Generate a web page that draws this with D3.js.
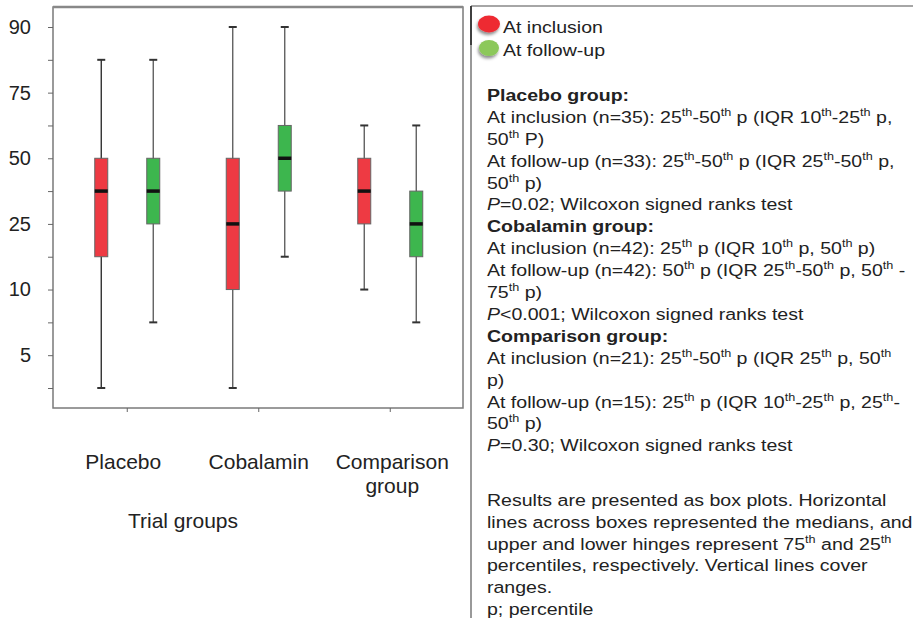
<!DOCTYPE html>
<html>
<head>
<meta charset="utf-8">
<script src="https://cdn.jsdelivr.net/npm/d3@7"></script>
<style>
  html, body { margin: 0; padding: 0; background: #fff; }
  svg { display: block; font-family: Arial, "Liberation Sans", sans-serif; }
</style>
</head>
<body>
<svg id="chart" width="913" height="618"></svg>
<script>
// ---------------- data ----------------
const groups = ["Placebo", "Cobalamin", "Comparison group"];
const series = ["At inclusion", "At follow-up"];
// y axis is an ordinal percentile scale; values are level indices (0..11)
const yTickLabels = ["", "5", "", "10", "", "25", "", "50", "", "75", "", "90"];
// order: [Placebo incl, Placebo fu, Cobalamin incl, Cobalamin fu, Comparison incl, Comparison fu]
const whiskerLow  = [0, 2, 0, 4, 3, 2];
const boxLow      = [4, 5, 3, 6, 5, 4];
const medianVal   = [6, 6, 5, 7, 6, 5];
const boxHigh     = [7, 7, 7, 8, 7, 6];
const whiskerHigh = [10, 10, 11, 11, 8, 8];
const seriesColors = ["#ee3a43", "#3db64e"];
const legendColors = ["#ee2a32", "#8cc85a"];

const statLines = [
  {t: "Placebo group:", b: true},
  {t: "At inclusion (n=35): 25^th^-50^th^ p (IQR 10^th^-25^th^ p,"},
  {t: "50^th^ P)"},
  {t: "At follow-up (n=33): 25^th^-50^th^ p (IQR 25^th^-50^th^ p,"},
  {t: "50^th^ p)"},
  {t: "*P*=0.02; Wilcoxon signed ranks test"},
  {t: "Cobalamin group:", b: true},
  {t: "At inclusion (n=42): 25^th^ p (IQR 10^th^ p, 50^th^ p)"},
  {t: "At follow-up (n=42): 50^th^ p (IQR 25^th^-50^th^ p, 50^th^ -"},
  {t: "75^th^ p)"},
  {t: "*P*<0.001; Wilcoxon signed ranks test"},
  {t: "Comparison group:", b: true},
  {t: "At inclusion (n=21): 25^th^-50^th^ p (IQR 25^th^ p, 50^th^"},
  {t: "p)"},
  {t: "At follow-up (n=15): 25^th^ p (IQR 10^th^-25^th^ p, 25^th^-"},
  {t: "50^th^ p)"},
  {t: "*P*=0.30; Wilcoxon signed ranks test"}
];
const noteLines = [
  "Results are presented as box plots. Horizontal",
  "lines across boxes represented the medians, and",
  "upper and lower hinges represent 75^th^ and 25^th^",
  "percentiles, respectively. Vertical lines cover",
  "ranges.",
  "p; percentile"
];

// ---------------- layout ----------------
const svg = d3.select("#chart");
const frame = {left: 53, right: 463, top: 7, bottom: 408};

const x = d3.scaleBand().domain(groups).range([61.5, 456]).padding(0);
const xs = d3.scaleBand().domain(series).range([-52, 52]).padding(0);
const y = d3.scaleLinear().domain([0, 11]).range([388, 27]);
const boxW = 13;

// frame
svg.append("rect")
  .attr("x", frame.left).attr("y", frame.top)
  .attr("width", frame.right - frame.left).attr("height", frame.bottom - frame.top)
  .attr("fill", "none").attr("stroke", "#7a7a7a").attr("stroke-width", 1.5);
svg.append("line").attr("x1", frame.left).attr("x2", frame.right)
  .attr("y1", frame.top).attr("y2", frame.top)
  .attr("stroke", "#888").attr("stroke-width", 2.5);

// y axis
const yAxis = d3.axisLeft(y)
  .tickValues(d3.range(0, 12))
  .tickFormat(i => yTickLabels[i])
  .tickSize(5).tickPadding(17);
const gy = svg.append("g").attr("transform", `translate(${frame.left},0)`).call(yAxis);
gy.select(".domain").remove();
gy.selectAll(".tick line").attr("stroke", "#666");
gy.selectAll(".tick text").attr("font-size", 20).attr("fill", "#222")
  .attr("font-family", "Arial, 'Liberation Sans', sans-serif");

// x axis
const xAxis = d3.axisBottom(x).tickSize(4).tickFormat("");
const gx = svg.append("g").attr("transform", `translate(0,${frame.bottom})`).call(xAxis);
gx.select(".domain").remove();
gx.selectAll(".tick line").attr("stroke", "#666");

// category labels
const catLabel = svg.append("g").attr("font-size", 21).attr("fill", "#222").attr("text-anchor", "middle");
const catLines = {"Placebo": ["Placebo"], "Cobalamin": ["Cobalamin"], "Comparison group": ["Comparison", "group"]};
groups.forEach((g, gi) => {
  const cx = x(g) + x.bandwidth() / 2 + (gi === 0 ? -4 : 0) + (gi === 2 ? 2 : 0);
  catLines[g].forEach((ln, li) => {
    catLabel.append("text").attr("x", cx).attr("y", 469 + li * 24).text(ln);
  });
});
svg.append("text").attr("x", 183).attr("y", 528).attr("text-anchor", "middle")
  .attr("font-size", 21).attr("fill", "#222").text("Trial groups");

// boxes
const boxes = [];
groups.forEach((g, gi) => series.forEach((s, si) => {
  const k = gi * 2 + si;
  boxes.push({g, s, si, lo: whiskerLow[k], q1: boxLow[k], med: medianVal[k], q3: boxHigh[k], hi: whiskerHigh[k]});
}));
const bx = d => x(d.g) + x.bandwidth() / 2 + xs(d.s) + xs.bandwidth() / 2;

const bg = svg.append("g").selectAll("g").data(boxes).join("g");
bg.append("line")
  .attr("x1", bx).attr("x2", bx)
  .attr("y1", d => y(d.lo)).attr("y2", d => y(d.hi))
  .attr("stroke", (d, i) => i === 0 ? "#222" : "#555").attr("stroke-width", 1.3);
[["lo"], ["hi"]].forEach(([k]) => {
  bg.append("line")
    .attr("x1", d => bx(d) - 4).attr("x2", d => bx(d) + 4)
    .attr("y1", d => y(d[k])).attr("y2", d => y(d[k]))
    .attr("stroke", "#333").attr("stroke-width", 2);
});
bg.append("rect")
  .attr("x", d => bx(d) - boxW / 2).attr("width", boxW)
  .attr("y", d => y(d.q3)).attr("height", d => y(d.q1) - y(d.q3))
  .attr("fill", d => seriesColors[d.si]).attr("stroke", "#666").attr("stroke-width", 1);
bg.append("line")
  .attr("x1", d => bx(d) - boxW / 2).attr("x2", d => bx(d) + boxW / 2)
  .attr("y1", d => y(d.med)).attr("y2", d => y(d.med))
  .attr("stroke", "#111").attr("stroke-width", 3.5);

// ---------------- right panel ----------------
const panelX = 471;
svg.append("line").attr("x1", panelX).attr("x2", panelX).attr("y1", 6).attr("y2", 618)
  .attr("stroke", "#777").attr("stroke-width", 1.5);
svg.append("line").attr("x1", panelX).attr("x2", 913).attr("y1", 6).attr("y2", 6)
  .attr("stroke", "#888").attr("stroke-width", 1.5);
svg.append("line").attr("x1", panelX).attr("x2", panelX).attr("y1", 6).attr("y2", 45)
  .attr("stroke", "#222").attr("stroke-width", 1.5);

// legend
const defs = svg.append("defs");
const f = defs.append("filter").attr("id", "sh").attr("x", "-50%").attr("y", "-50%").attr("width", "200%").attr("height", "200%");
f.append("feDropShadow").attr("dx", -1).attr("dy", 2.5).attr("stdDeviation", 1.8).attr("flood-color", "#000").attr("flood-opacity", 0.45);

const stretch = 1.15;
const leg = svg.append("g");
series.forEach((s, i) => {
  leg.append("ellipse").attr("cx", 489).attr("cy", 24 + i * 24)
    .attr("rx", i === 0 ? 11 : 10).attr("ry", i === 0 ? 8.5 : 8)
    .attr("fill", legendColors[i]).attr("filter", "url(#sh)");
  leg.append("text").attr("transform", `translate(503,${33 + i * 23}) scale(${stretch},1)`)
    .attr("font-size", 17).attr("fill", "#222").text(s);
});

function richText(sel, str) {
  // ^...^ superscript, *...* italic
  const parts = str.split(/(\^[^^]*\^|\*[^*]*\*)/).filter(p => p.length);
  let raised = false;
  parts.forEach(p => {
    const ts = sel.append("tspan");
    if (p.startsWith("^")) {
      ts.text(p.slice(1, -1)).attr("font-size", 11).attr("dy", raised ? 0 : -7);
      raised = true;
    } else {
      if (p.startsWith("*")) { ts.text(p.slice(1, -1)).attr("font-style", "italic"); }
      else ts.text(p);
      if (raised) { ts.attr("dy", 7); raised = false; }
    }
  });
}

const tx = 487;
const tg = svg.append("g").attr("font-size", 17).attr("fill", "#222")
  .attr("transform", `translate(${tx},0) scale(${stretch},1)`);
statLines.forEach((ln, i) => {
  const t = tg.append("text").attr("x", 0).attr("y", 101 + i * 21.9).attr("xml:space", "preserve");
  if (ln.b) t.attr("font-weight", "bold");
  richText(t, ln.t);
});
noteLines.forEach((ln, i) => {
  const t = tg.append("text").attr("x", 0).attr("y", 506 + i * 21.8).attr("xml:space", "preserve");
  richText(t, ln);
});
</script>
</body>
</html>
